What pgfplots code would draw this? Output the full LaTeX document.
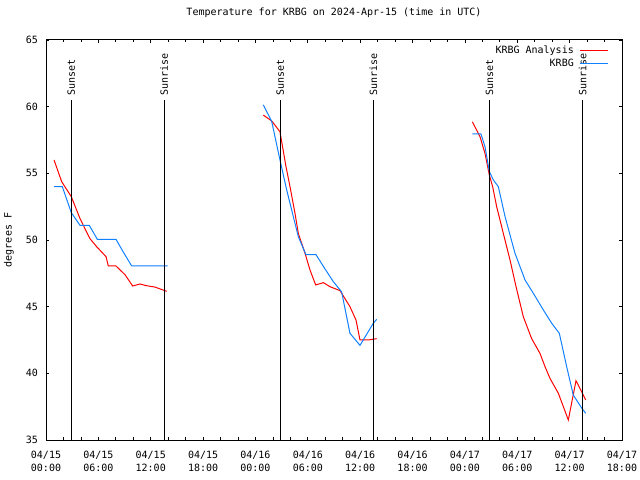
\documentclass[border=0pt]{standalone}
\usepackage{fontspec}
\setmainfont{DejaVu Sans Mono}
\usepackage{pgfplots}
\pgfplotsset{compat=1.18}
\definecolor{anared}{RGB}{255,0,0}
\definecolor{obsblue}{RGB}{16,128,255}
\begin{document}
\begin{tikzpicture}[font=\fontsize{10bp}{13bp}\selectfont]
\useasboundingbox (0,0) rectangle (640bp,480bp);
\begin{axis}[
  at={(46bp,40bp)}, anchor=south west,
  scale only axis, width=576bp, height=400bp,
  xmin=0, xmax=66, ymin=35, ymax=65,
  axis line style={line width=1bp},
  every tick/.style={black, line width=0.8bp},
  major tick length=3bp, minor tick length=2.5bp,
  tick align=inside, xtick pos=both, ytick pos=both,
  xtick={0,6,...,66},
  minor x tick num=2,
  xticklabels={{04/15\\00:00},{04/15\\06:00},{04/15\\12:00},{04/15\\18:00},{04/16\\00:00},{04/16\\06:00},{04/16\\12:00},{04/16\\18:00},{04/17\\00:00},{04/17\\06:00},{04/17\\12:00},{04/17\\18:00}},
  xticklabel style={align=center, anchor=north, inner sep=0pt, yshift=-11bp},
  ytick={35,40,...,65},
  yticklabel style={anchor=east, inner sep=0pt, xshift=-8bp},
  /pgf/number format/assume math mode=true,
  title={Temperature for KRBG on 2024-Apr-15 (time in UTC)},
  title style={at={(axis description cs:0.5,1)}, anchor=center, yshift=21bp, inner sep=0pt},
  ylabel={degrees F},
  ylabel style={at={(axis description cs:-0.0642,0.5)}, anchor=center, inner sep=0pt},
  unbounded coords=jump,
  legend style={at={(1,1)}, anchor=north east, xshift=-12bp, yshift=-6bp, draw=none, fill=none, inner sep=0pt, row sep=3bp, column sep=0pt, nodes={inner sep=0pt, text height=7.5bp, text depth=2bp}},
]
\addplot[anared, line width=1bp, legend image code/.code={\draw[anared, line width=1bp] (0bp,0bp) -- (28bp,0bp); \node[anchor=east, text=black, inner sep=0pt] at (-6bp,0bp) {KRBG Analysis};}] coordinates {
(0.92,56.0) (1.8,54.37) (2.9,53.25) (3.9,51.6) (5.04,50.1) (5.8,49.5) (6.88,48.75) (7.14,48.05) (8.02,48.05) (9.05,47.4) (9.93,46.55) (10.77,46.7) (11.53,46.57) (12.49,46.47) (13.83,46.15)
(19,nan)
(24.9,59.37) (25.86,58.93) (26.81,58.12) (27.5,55.5) (27.96,54.0) (28.53,52.0) (28.91,50.5) (29.68,49.0) (30.25,47.75) (30.9,46.63) (31.78,46.8) (32.54,46.5) (33.69,46.2) (34.83,45.0) (35.52,44.0) (35.98,42.5) (36.93,42.5) (37.89,42.6)
(43,nan)
(48.85,58.87) (49.73,57.75) (50.3,56.5) (50.8,54.87) (51.18,54.0) (51.64,52.5) (52.4,50.5) (53.17,48.5) (53.86,46.5) (54.69,44.25) (55.65,42.6) (56.6,41.5) (57.18,40.5) (57.75,39.62) (58.71,38.5) (59.28,37.5) (59.85,36.5) (60.73,39.45) (61.38,38.62) (61.84,38.0)
};
\addlegendentry{}
\addplot[obsblue, line width=1bp, legend image code/.code={\draw[obsblue, line width=1bp] (0bp,0bp) -- (28bp,0bp); \node[anchor=east, text=black, inner sep=0pt] at (-6bp,0bp) {KRBG};}] coordinates {
(0.92,54) (1.87,54) (2.9,52.05) (3.9,51.1) (4.96,51.1) (5.88,50.05) (8.02,50.05) (8.9,49.05) (9.82,48.05) (13.94,48.05)
(19,nan)
(24.9,60.13) (25.86,58.9) (26.81,56.0) (27.58,53.75) (28.34,51.75) (28.91,50.25) (29.79,48.9) (30.94,48.9) (31.9,47.9) (32.9,46.9) (33.88,46.1) (34.83,43.0) (35.98,42.1) (37.5,43.75) (37.89,44.05)
(43,nan)
(48.85,57.95) (49.84,57.95) (50.3,57.0) (50.8,55.13) (51.26,54.5) (51.83,54.0) (52.6,51.75) (53.74,49.0) (54.89,47.0) (55.84,46.0) (56.99,44.75) (57.95,43.75) (58.82,43.0) (59.66,40.5) (60.42,38.37) (61.38,37.4) (61.84,37.0)
};
\addlegendentry{}
\addplot[black, line width=1.2bp, forget plot] coordinates {(2.9,35) (2.9,60.5)};
\addplot[black, line width=1.2bp, forget plot] coordinates {(13.55,35) (13.55,60.5)};
\addplot[black, line width=1.2bp, forget plot] coordinates {(26.85,35) (26.85,60.5)};
\addplot[black, line width=1.2bp, forget plot] coordinates {(37.52,35) (37.52,60.5)};
\addplot[black, line width=1.2bp, forget plot] coordinates {(50.83,35) (50.83,60.5)};
\addplot[black, line width=1.2bp, forget plot] coordinates {(61.48,35) (61.48,60.5)};
\node[rotate=90, anchor=west, inner sep=0pt] at (axis cs:2.9,60.85) {Sunset};
\node[rotate=90, anchor=west, inner sep=0pt] at (axis cs:13.55,60.85) {Sunrise};
\node[rotate=90, anchor=west, inner sep=0pt] at (axis cs:26.85,60.85) {Sunset};
\node[rotate=90, anchor=west, inner sep=0pt] at (axis cs:37.52,60.85) {Sunrise};
\node[rotate=90, anchor=west, inner sep=0pt] at (axis cs:50.83,60.85) {Sunset};
\node[rotate=90, anchor=west, inner sep=0pt] at (axis cs:61.48,60.85) {Sunrise};
\end{axis}
\end{tikzpicture}
\end{document}
